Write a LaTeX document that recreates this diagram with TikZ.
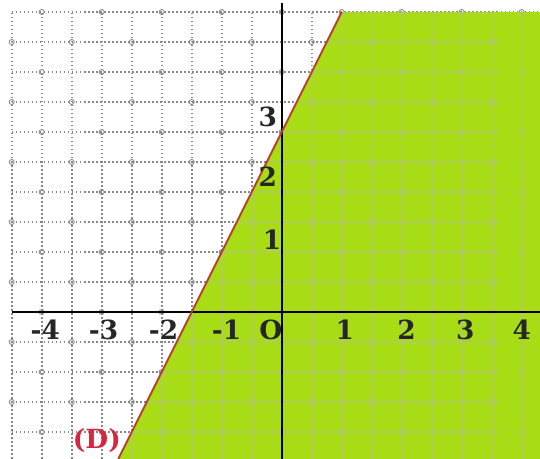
\documentclass[tikz,border=0pt]{standalone}
\usepackage{fontspec}
\setmainfont{DejaVu Serif}
\usepackage{tikz}
\usetikzlibrary{positioning, calc}
\definecolor{regiongreen}{RGB}{168, 221, 22}
\definecolor{linebrown}{RGB}{178, 64, 44}
\definecolor{labelred}{RGB}{214, 38, 64}
\definecolor{gridgray}{RGB}{135, 135, 135}
\definecolor{gridpale}{RGB}{180, 190, 150}

\begin{document}
\begin{tikzpicture}[
    every node/.style={font=\fontsize{12.5}{14}\selectfont\bfseries},
    gridline/.style={gridgray, line width=0.9pt, dash pattern=on 0.8pt off 1.1pt},
    gridmark/.style={circle, draw=gridgray, line width=0.4pt, inner sep=0pt, minimum size=2.4pt},
    axis/.style={black, line width=0.8pt},
    tick/.style={inner sep=1pt, text=black!85},
    borderline/.style={linebrown, line width=0.9pt}
]
\useasboundingbox (-4.695,-2.45) rectangle (4.305,5.2);
\coordinate (low) at (-2.725,-2.45);
\coordinate (high) at (1,5);
\draw[gridline] (-4.5,-2.45) grid[step=0.5] (4.305,5);
\foreach \i in {0,...,17}
  \foreach \j in {0,...,14}
    {\pgfmathtruncatemacro{\oddmark}{mod(\i+\j,2)}
     \ifnum\oddmark=1 \node[gridmark] at ({-4.5+0.5*\i},{5-0.5*\j}) {}; \fi}
% shaded half-plane, grid paler on it
\begin{scope}
  \clip (high) -- (4.305,5) -- (4.305,-2.45) -- (low) -- cycle;
  \fill[regiongreen] (-4.695,-2.45) rectangle (4.305,5.2);
  \draw[gridline, gridpale] (-4.5,-2.45) grid[step=0.5] (4.305,5);
  \foreach \i in {0,...,17}
    \foreach \j in {0,...,14}
      {\pgfmathtruncatemacro{\oddmark}{mod(\i+\j,2)}
       \ifnum\oddmark=1 \node[gridmark, draw=gridpale] at ({-4.5+0.5*\i},{5-0.5*\j}) {}; \fi}
\end{scope}
\draw[axis] (-4.5,0) -- (4.305,0);
\draw[axis] (0,-2.45) -- (0,5.15);
\draw[borderline] (low) -- (high);
% graduations
\node[tick] (xm4) at (-3.94,-0.3) {-4};
\node[tick] (xm3) at (-2.97,-0.3) {-3};
\node[tick] (xm2) at (-1.97,-0.3) {-2};
\node[tick] (xm1) at (-0.92,-0.3) {-1};
\node[tick] (orig) at (-0.18,-0.3) {O};
\node[tick] (x1) at (1.05,-0.3) {1};
\node[tick] (x2) at (2.08,-0.3) {2};
\node[tick] (x3) at (3.06,-0.3) {3};
\node[tick] (x4) at (4.0,-0.3) {4};
\node[tick] (y1) at (-0.16,1.2) {1};
\node[tick] (y2) at (-0.23,2.25) {2};
\node[tick] (y3) at (-0.23,3.25) {3};
\node[text=labelred, inner sep=1pt] (dname) at (-3.08,-2.15) {(D)};
\end{tikzpicture}
\end{document}
